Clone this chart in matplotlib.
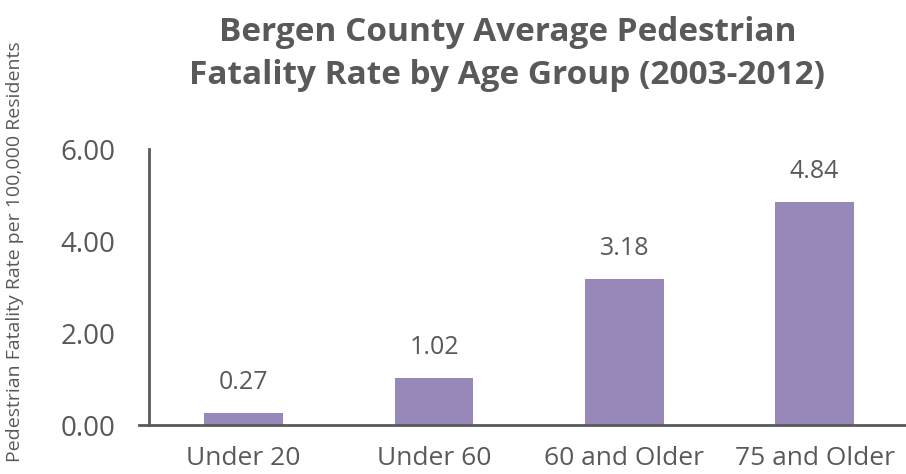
import matplotlib
matplotlib.use("Agg")
import matplotlib.pyplot as plt

# values
age_groups = ["Under 20", "Under 60", "60 and Older", "75 and Older"]
fatality_rates = [0.27, 1.02, 3.18, 4.84]
y_ticks = [0.0, 2.0, 4.0, 6.0]

GRAY = "#595959"
BAR_COLOR = "#9887b9"

plt.rcParams["font.family"] = ["Open Sans", "DejaVu Sans"]

fig = plt.figure(figsize=(9.06, 4.74), dpi=100)
ax = fig.add_axes([139 / 906, 49 / 474, 1 - 139 / 906, 276 / 474])

x = list(range(len(age_groups)))
bars = ax.bar(x, fatality_rates, width=0.415, color=BAR_COLOR)

for rect, val in zip(bars, fatality_rates):
    ax.annotate(f"{val:.2f}", (rect.get_x() + rect.get_width() / 2, rect.get_height()),
                xytext=(0, 13), textcoords="offset points",
                ha="center", va="bottom", fontsize=18, color=GRAY)

ax.set_xlim(-0.55, 3.48)
ax.set_ylim(0, 6)
ax.set_yticks(y_ticks)
ax.set_yticklabels([f"{t:.2f}" for t in y_ticks])
ax.set_xticks(x)
ax.set_xticklabels(age_groups)
ax.tick_params(axis="y", length=0, pad=24, labelsize=20, labelcolor=GRAY)
ax.tick_params(axis="x", length=0, pad=15, labelsize=19, labelcolor=GRAY)

for side in ["top", "right"]:
    ax.spines[side].set_visible(False)
ax.spines["left"].set_position(("data", -0.5))
ax.spines["left"].set_color(GRAY)
ax.spines["left"].set_linewidth(2)
ax.spines["bottom"].set_color(GRAY)
ax.spines["bottom"].set_linewidth(2)

fig.text(0.56, 0.886, "Bergen County Average Pedestrian\nFatality Rate by Age Group (2003-2012)",
         ha="center", va="center", fontsize=24, fontweight="bold", color=GRAY, linespacing=1.38)
fig.text(15 / 906, 0.47, "Pedestrian Fatality Rate per 100,000 Residents",
         rotation=90, ha="center", va="center", fontsize=14, color=GRAY)

fig.savefig("out.png", dpi=100)
